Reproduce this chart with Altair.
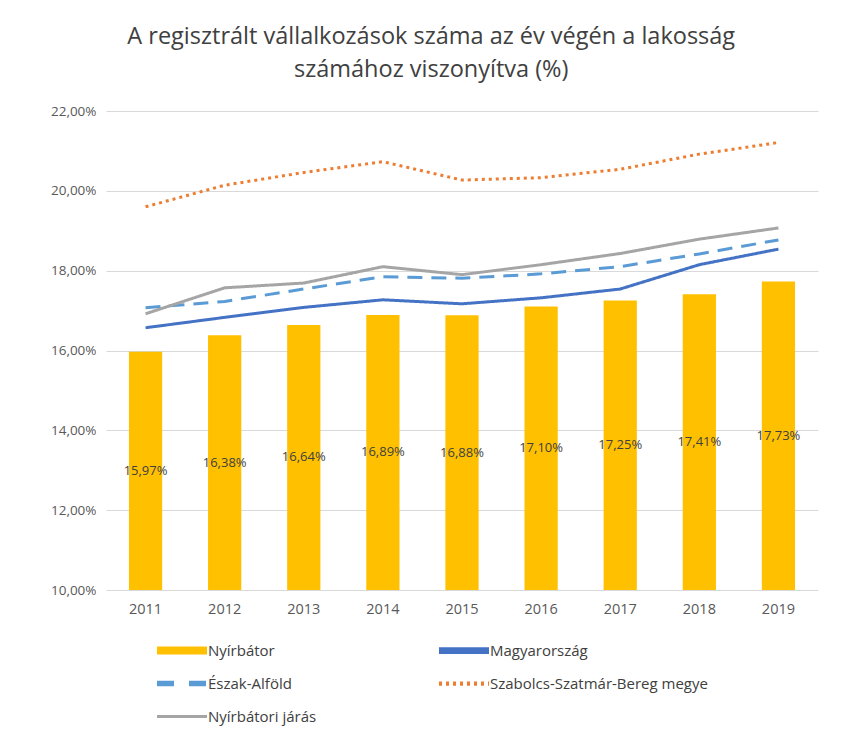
import altair as alt
import pandas as pd

years = ["2011", "2012", "2013", "2014", "2015", "2016", "2017", "2018", "2019"]
nyirbator = [15.97, 16.38, 16.64, 16.89, 16.88, 17.10, 17.25, 17.41, 17.73]
magyarorszag = [16.57, 16.83, 17.08, 17.27, 17.17, 17.32, 17.54, 18.15, 18.54]
eszak_alfold = [17.07, 17.23, 17.54, 17.85, 17.81, 17.92, 18.10, 18.42, 18.77]
szabolcs = [19.60, 20.14, 20.46, 20.73, 20.27, 20.33, 20.54, 20.92, 21.21]
jaras = [16.92, 17.57, 17.69, 18.10, 17.90, 18.15, 18.43, 18.79, 19.07]

bar_name = "Nyírbátor"
line_names = ["Magyarország", "Észak-Alföld", "Szabolcs-Szatmár-Bereg megye", "Nyírbátori járás"]
line_values = [magyarorszag, eszak_alfold, szabolcs, jaras]
line_colors = ["#4472C4", "#5B9BD5", "#ED7D31", "#A5A5A5"]
line_dashes = [[1, 0], [15, 9], [3, 4], [1, 0]]
bar_color = "#FFC000"
y_ticks = [10, 12, 14, 16, 18, 20, 22]

legend_order = [bar_name, "Magyarország", "Észak-Alföld", "Szabolcs-Szatmár-Bereg megye", "Nyírbátori járás"]
legend_colors = [bar_color, "#4472C4", "#5B9BD5", "#ED7D31", "#A5A5A5"]
legend_dashes = [[1, 0], [1, 0], [17, 15], [3, 4], [1, 0]]
legend_widths = [8, 3, 3, 3, 3]

FONT = "Open Sans"
TXT = "#404040"

bars_df = pd.DataFrame({"year": years, "value": nyirbator})
lines_df = pd.DataFrame(
    [{"year": y, "value": v, "series": n} for n, vals in zip(line_names, line_values) for y, v in zip(years, vals)]
)
legend_df = pd.DataFrame(
    {"name": legend_order,
     "col": [i % 2 for i in range(len(legend_order))],
     "row": [i // 2 for i in range(len(legend_order))]}
)

W, H = 712, 479
x_enc = alt.X("year:N", title=None, sort=years,
              scale=alt.Scale(paddingInner=0.58, paddingOuter=0.29),
              axis=alt.Axis(labelAngle=0, ticks=False, domain=False, grid=False,
                            labelPadding=12, labelFontSize=14.5, labelColor="#595959", labelFont=FONT))
y_scale = alt.Scale(domain=[10, 22], nice=False, zero=False)
y_axis = alt.Axis(values=y_ticks, title=None, ticks=False, domain=False, grid=True,
                  gridColor="#D9D9D9", gridWidth=1, labelPadding=10, labelFontSize=13.5,
                  labelColor="#595959", labelFont=FONT,
                  labelExpr="replace(format(datum.value, '.2f'), '.', ',') + '%'")

bars = alt.Chart(bars_df).mark_bar(color=bar_color).encode(
    x=x_enc,
    y=alt.Y("value:Q", scale=y_scale, axis=y_axis),
    y2=alt.datum(10),
)
labels = alt.Chart(bars_df).transform_calculate(
    mid="(datum.value + 10) / 2",
    lab="replace(format(datum.value, '.2f'), '.', ',') + '%'",
).mark_text(font=FONT, fontSize=13, color=TXT).encode(
    x=alt.X("year:N", sort=years),
    y=alt.Y("mid:Q", scale=y_scale),
    text="lab:N",
)
lines = alt.Chart(lines_df).mark_line(strokeWidth=3).encode(
    x=alt.X("year:N", sort=years),
    y=alt.Y("value:Q", scale=y_scale),
    color=alt.Color("series:N", scale=alt.Scale(domain=line_names, range=line_colors), legend=None),
    strokeDash=alt.StrokeDash("series:N", scale=alt.Scale(domain=line_names, range=line_dashes), legend=None),
    detail="series:N",
)
main = alt.layer(bars, lines, labels).properties(width=W, height=H, view=alt.ViewBackground(stroke=None))

leg_x = alt.X("col:Q", scale=alt.Scale(domain=[0, 1], range=[51, 333]), axis=None)
leg_y = alt.Y("row:Q", scale=alt.Scale(domain=[-0.5, 2.5], range=[0, 99]), axis=None)
leg_sym = alt.Chart(legend_df).mark_rule(x2Offset=50, strokeCap="butt").encode(
    x=leg_x, x2="col:Q", y=leg_y,
    color=alt.Color("name:N", scale=alt.Scale(domain=legend_order, range=legend_colors), legend=None),
    strokeDash=alt.StrokeDash("name:N", scale=alt.Scale(domain=legend_order, range=legend_dashes), legend=None),
    strokeWidth=alt.StrokeWidth("name:N", scale=alt.Scale(domain=legend_order, range=legend_widths), legend=None),
)
leg_txt = alt.Chart(legend_df).mark_text(align="left", xOffset=51, font=FONT, fontSize=15, color=TXT).encode(
    x=leg_x, y=leg_y, text="name:N"
)
legend = alt.layer(leg_sym, leg_txt).properties(width=W, height=99, view=alt.ViewBackground(stroke=None))

chart = alt.vconcat(main, legend, spacing=18).resolve_scale(
    x="independent", y="independent", color="independent", strokeDash="independent"
).properties(
    title=alt.Title(["A regisztrált vállalkozások száma az év végén a lakosság", "számához viszonyítva  (%)"],
                    fontSize=23.5, font=FONT, fontWeight="normal", color=TXT, anchor="middle",
                    lineHeight=33, offset=23, dx=-3),
    padding={"left": 42, "top": 16, "right": 10, "bottom": 5},
).configure_view(stroke=None).configure(background="white")

chart.save("out.html", embed_options={"renderer": "svg", "actions": False})
